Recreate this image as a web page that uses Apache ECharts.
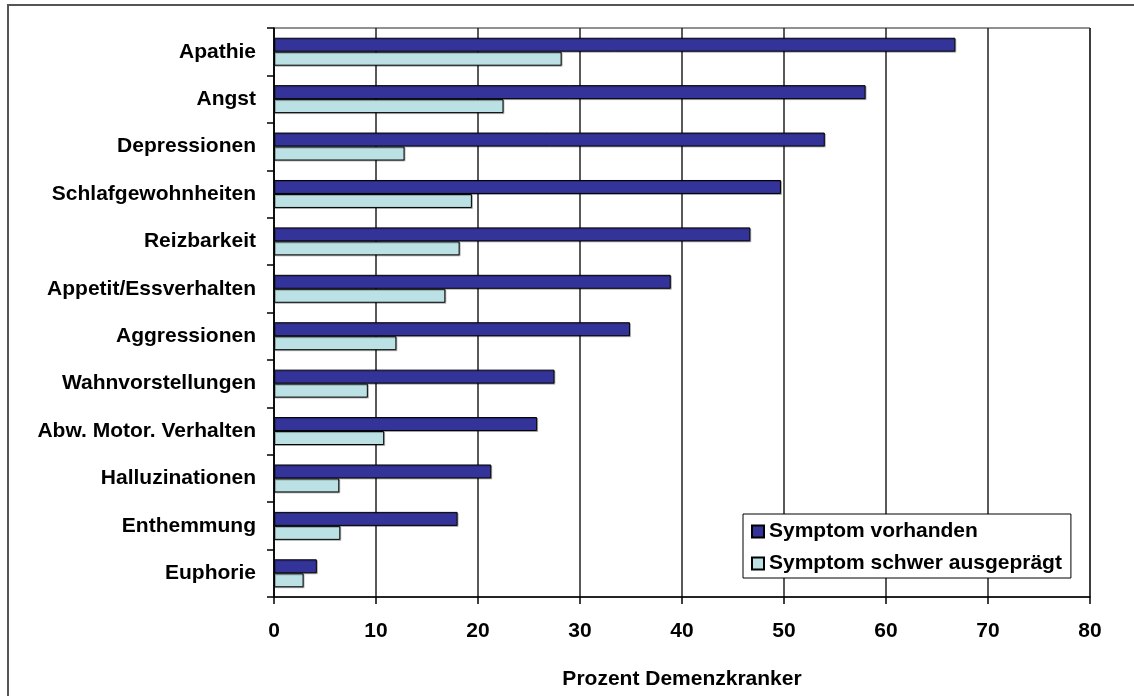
<!DOCTYPE html>
<html>
<head>
<meta charset="utf-8">
<script src="https://cdn.jsdelivr.net/npm/echarts@6/dist/echarts.min.js"></script>
<style>
html,body{margin:0;padding:0;background:#fff;}
#chart{width:1134px;height:696px;}
</style>
</head>
<body>
<div id="chart"></div>
<script>
const categories = ['Apathie','Angst','Depressionen','Schlafgewohnheiten','Reizbarkeit','Appetit/Essverhalten','Aggressionen','Wahnvorstellungen','Abw. Motor. Verhalten','Halluzinationen','Enthemmung','Euphorie'];
const vorhanden = [66.8, 58.0, 54.0, 49.7, 46.7, 38.9, 34.9, 27.5, 25.8, 21.3, 18.0, 4.2];
const schwer = [28.2, 22.5, 12.8, 19.4, 18.2, 16.8, 12.0, 9.2, 10.8, 6.4, 6.5, 2.9];
const seriesNames = ['Symptom vorhanden', 'Symptom schwer ausgeprägt'];
const xTicks = [0, 10, 20, 30, 40, 50, 60, 70, 80];
const axisTitle = 'Prozent Demenzkranker';

const FONT = '"Liberation Sans", Arial, sans-serif';
const chart = echarts.init(document.getElementById('chart'));
chart.setOption({
  backgroundColor: '#ffffff',
  animation: false,
  graphic: [{
    type: 'polyline',
    shape: { points: [[8, 700], [8, 5], [1140, 5]] },
    style: { stroke: '#555555', lineWidth: 2, fill: null },
    z: 100
  }],
  grid: { left: 274, right: 44, top: 28, bottom: 99, show: true, borderColor: '#222', borderWidth: 1, containLabel: false },
  legend: {
    data: seriesNames,
    orient: 'vertical',
    left: 743, top: 514,
    padding: [7, 9, 4, 8],
    itemWidth: 12, itemHeight: 12, itemGap: 11,
    icon: 'rect',
    backgroundColor: '#fff',
    borderColor: '#000', borderWidth: 1,
    textStyle: { fontFamily: FONT, fontWeight: 'bold', fontSize: 21, color: '#000', lineHeight: 21 }
  },
  xAxis: {
    type: 'value',
    min: xTicks[0], max: xTicks[xTicks.length - 1], interval: 10,
    name: axisTitle,
    nameLocation: 'middle',
    nameGap: 72,
    nameTextStyle: { fontFamily: FONT, fontWeight: 'bold', fontSize: 21, color: '#000' },
    axisLine: { show: true, lineStyle: { color: '#000', width: 1.5 } },
    axisTick: { show: true, length: 7, lineStyle: { color: '#000', width: 1.5 } },
    axisLabel: { margin: 24, fontFamily: FONT, fontWeight: 'bold', fontSize: 21, color: '#000' },
    splitLine: { show: true, lineStyle: { color: '#222', width: 1.5 } }
  },
  yAxis: {
    type: 'category',
    data: categories,
    inverse: true,
    axisLine: { show: true, lineStyle: { color: '#000', width: 1.5 } },
    axisTick: { show: true, length: 7, lineStyle: { color: '#000', width: 1.5 } },
    axisLabel: { margin: 18, fontFamily: FONT, fontWeight: 'bold', fontSize: 21, color: '#000' },
    splitLine: { show: false }
  },
  series: [
    {
      name: seriesNames[0], type: 'bar', data: vorhanden,
      barGap: '0%', barCategoryGap: '41%',
      itemStyle: { color: '#333399', borderColor: '#000', borderWidth: 1, shadowColor: 'rgba(0,0,0,0.25)', shadowOffsetX: 1, shadowOffsetY: 1 }
    },
    {
      name: seriesNames[1], type: 'bar', data: schwer,
      barGap: '0%', barCategoryGap: '41%',
      itemStyle: { color: '#BBE1E4', borderColor: '#000', borderWidth: 1, shadowColor: 'rgba(0,0,0,0.25)', shadowOffsetX: 1, shadowOffsetY: 1 }
    }
  ]
});
</script>
</body>
</html>
